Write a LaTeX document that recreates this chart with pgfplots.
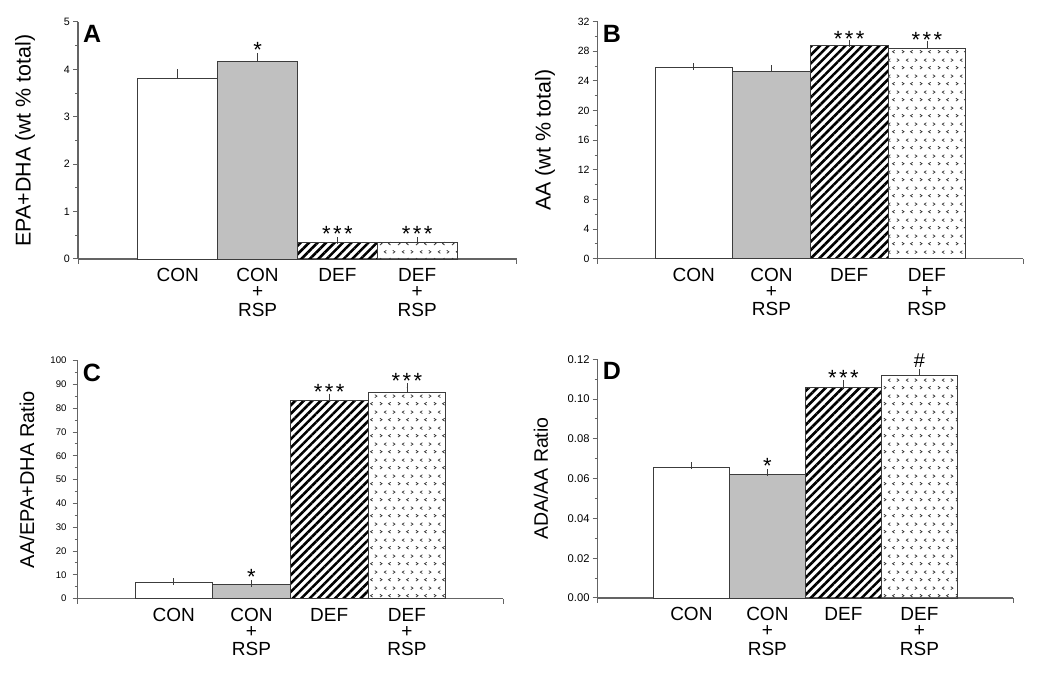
\documentclass[border=0pt]{standalone}
\usepackage{pgfplots}
\pgfplotsset{compat=1.18}
\usepackage{fontspec}
\setmainfont{Liberation Sans}
\usetikzlibrary{patterns.meta}
\definecolor{barline}{RGB}{60,60,60}
\definecolor{axgray}{RGB}{100,100,100}
\definecolor{bargray}{RGB}{192,192,192}
\newcommand{\lab}[1]{\begin{tabular}[t]{@{}c@{}}#1\end{tabular}}
\tikzdeclarepattern{
  name=chev, type=uncolored,
  bounding box={(0pt,0pt) and (18pt,16pt)},
  tile size={(18pt,16pt)},
  code={
    \draw[line width=0.75pt] (2pt,2pt) -- (4.2pt,3.5pt) -- (2pt,5pt);
    \draw[line width=0.75pt] (13.2pt,2pt) -- (11pt,3.5pt) -- (13.2pt,5pt);
    \draw[line width=0.75pt] (8.7pt,10pt) -- (6.5pt,11.5pt) -- (8.7pt,13pt);
    \draw[line width=0.75pt] (15.5pt,10pt) -- (17.7pt,11.5pt) -- (15.5pt,13pt);
  }
}
\pgfplotsset{
  panel/.style={
    scale only axis, anchor=south west,
    axis lines*=left,
    axis line style={draw=axgray, line width=1.3pt},
    ymin=0,
    tick align=outside,
    major tick length=5pt, minor tick length=3pt,
    every tick/.style={draw=axgray, line width=1pt},
    minor y tick num=1,
    ytick pos=left, xtick pos=bottom,
    xtick={0,1,2,3},
    xticklabels={{\lab{CON}},{\lab{CON\\+\\RSP}},{\lab{DEF}},{\lab{DEF\\+\\RSP}}},
    major x tick style={draw=none},
    extra x tick labels={},
    extra x tick style={major x tick style={draw=axgray, line width=1pt}, major tick length=5pt},
    /pgf/number format/assume math mode=true,
    yticklabel style={inner sep=2pt, xshift=-1pt},
    xticklabel style={font=\fontsize{19}{16}\selectfont, inner sep=0pt, anchor=base, yshift=-18pt},
    ylabel style={anchor=center},
    clip=false,
  },
  conbar/.style={ybar, bar shift=0pt, bar width=1, fill=white, draw=barline, line width=0.8pt,
    error bars/y dir=plus, error bars/y explicit,
    error bars/error bar style={draw=barline, line width=0.7pt},
    error bars/error mark options={draw=barline, mark size=3.5pt, line width=0.7pt}},
  rspbar/.style={conbar, fill=bargray},
  defbar/.style={conbar, pattern={Lines[angle=45, distance=6pt, line width=2.6pt]}, pattern color=black},
  defrspbar/.style={conbar, pattern=chev, pattern color=black!80},
}
\newcommand{\onestar}[3]{\node[anchor=base, inner sep=0pt, font=\fontsize{22}{22}\selectfont] at ([yshift=#3]axis cs:#1,#2) {*};}
\newcommand{\threestars}[3]{\node[anchor=base, inner sep=0pt, font=\fontsize{22}{22}\selectfont] at ([yshift=#3]axis cs:#1,#2) {*\kern2.5pt*\kern2.5pt*};}
\newcommand{\panellabel}[1]{\node[anchor=north west, inner sep=0pt, font=\bfseries\fontsize{25}{25}\selectfont] at ([xshift=5pt,yshift=-3pt]rel axis cs:0,1) {#1};}
\begin{document}
\begin{tikzpicture}
\useasboundingbox (0pt,0pt) rectangle (1050pt,679pt);
% Panel A
\begin{axis}[panel, at={(78pt,420pt)}, width=439pt, height=237pt,
  xmin=-1.25, xmax=4.25, ymax=5, ytick={0,1,2,3,4,5},
  extra x ticks={-1.25,4.25},
  yticklabel style={font=\fontsize{10.7}{12}\selectfont},
  ylabel={EPA+DHA (wt \% total)},
  ylabel style={font=\fontsize{21.4}{22}\selectfont, at={([xshift=-53pt]axis description cs:0,0.5)}}]
\addplot[conbar] table[x=x,y=y,y error=e] {
x y e
0 3.80 0.13
};
\addplot[rspbar] table[x=x,y=y,y error=e] {
x y e
1 4.16 0.11
};
\addplot[defbar] table[x=x,y=y,y error=e] {
x y e
2 0.35 0.03
};
\addplot[defrspbar] table[x=x,y=y,y error=e] {
x y e
3 0.36 0.02
};
\onestar{1}{4.27}{-1pt}
\threestars{2}{0.38}{-1pt}
\threestars{3}{0.38}{-1pt}
\panellabel{A}
\end{axis}
% Panel B
\begin{axis}[panel, at={(597.7pt,420.3pt)}, width=425.3pt, height=237pt,
  xmin=-1.237, xmax=4.237, ymax=32, ytick={0,4,...,32},
  extra x ticks={-1.237,4.237},
  yticklabel style={font=\fontsize{10.5}{12}\selectfont},
  ylabel={AA (wt \% total)},
  ylabel style={font=\fontsize{21.4}{22}\selectfont, at={([xshift=-52.7pt]axis description cs:0,0.5)}}]
\addplot[conbar] table[x=x,y=y,y error=e] {
x y e
0 25.8 0.12
};
\addplot[rspbar] table[x=x,y=y,y error=e] {
x y e
1 25.25 0.4
};
\addplot[defbar] table[x=x,y=y,y error=e] {
x y e
2 28.85 0.2
};
\addplot[defrspbar] table[x=x,y=y,y error=e] {
x y e
3 28.45 0.45
};
\threestars{2}{29.05}{-3pt}
\threestars{3}{28.9}{-2.5pt}
\panellabel{B}
\end{axis}
% Panel C
\begin{axis}[panel, at={(77.7pt,80.3pt)}, width=425.3pt, height=238pt,
  xmin=-1.237, xmax=4.237, ymax=100, ytick={0,10,...,100},
  extra x ticks={-1.237,4.237},
  yticklabel style={font=\fontsize{9.6}{11}\selectfont, xshift=-3pt},
  ylabel={AA/EPA+DHA Ratio},
  ylabel style={font=\fontsize{20}{22}\selectfont, at={([xshift=-50.7pt]axis description cs:0,0.5)}}]
\addplot[conbar] table[x=x,y=y,y error=e] {
x y e
0 6.9 0.15
};
\addplot[rspbar] table[x=x,y=y,y error=e] {
x y e
1 6.0 0.5
};
\addplot[defbar] table[x=x,y=y,y error=e] {
x y e
2 83.2 1.5
};
\addplot[defrspbar] table[x=x,y=y,y error=e] {
x y e
3 86.6 2.4
};
\onestar{1}{6.5}{-1pt}
\threestars{2}{84.7}{-2pt}
\threestars{3}{89.0}{-2pt}
\panellabel{C}
\end{axis}
% Panel D
\begin{axis}[panel, at={(597.7pt,81pt)}, width=415.6pt, height=238.7pt,
  xmin=-1.232, xmax=4.235, ymax=0.12, ytick={0,0.02,...,0.12},
  extra x ticks={-1.232,4.235},
  scaled y ticks=false,
  yticklabel style={font=\fontsize{11.2}{12}\selectfont, /pgf/number format/.cd, fixed, fixed zerofill, precision=2},
  ylabel={ADA/AA Ratio},
  ylabel style={font=\fontsize{19.5}{22}\selectfont, at={([xshift=-56.7pt]axis description cs:0,0.5)}}]
\addplot[conbar] table[x=x,y=y,y error=e] {
x y e
0 0.0655 0.001
};
\addplot[rspbar] table[x=x,y=y,y error=e] {
x y e
1 0.0620 0.0012
};
\addplot[defbar] table[x=x,y=y,y error=e] {
x y e
2 0.1060 0.0018
};
\addplot[defrspbar] table[x=x,y=y,y error=e] {
x y e
3 0.1120 0.0013
};
\onestar{1}{0.0632}{-1pt}
\threestars{2}{0.1078}{-2pt}
\node[anchor=base, inner sep=0pt, font=\fontsize{20}{20}\selectfont] at ([yshift=5pt]axis cs:3,0.1133) {\#};
\panellabel{D}
\end{axis}
\end{tikzpicture}
\end{document}
